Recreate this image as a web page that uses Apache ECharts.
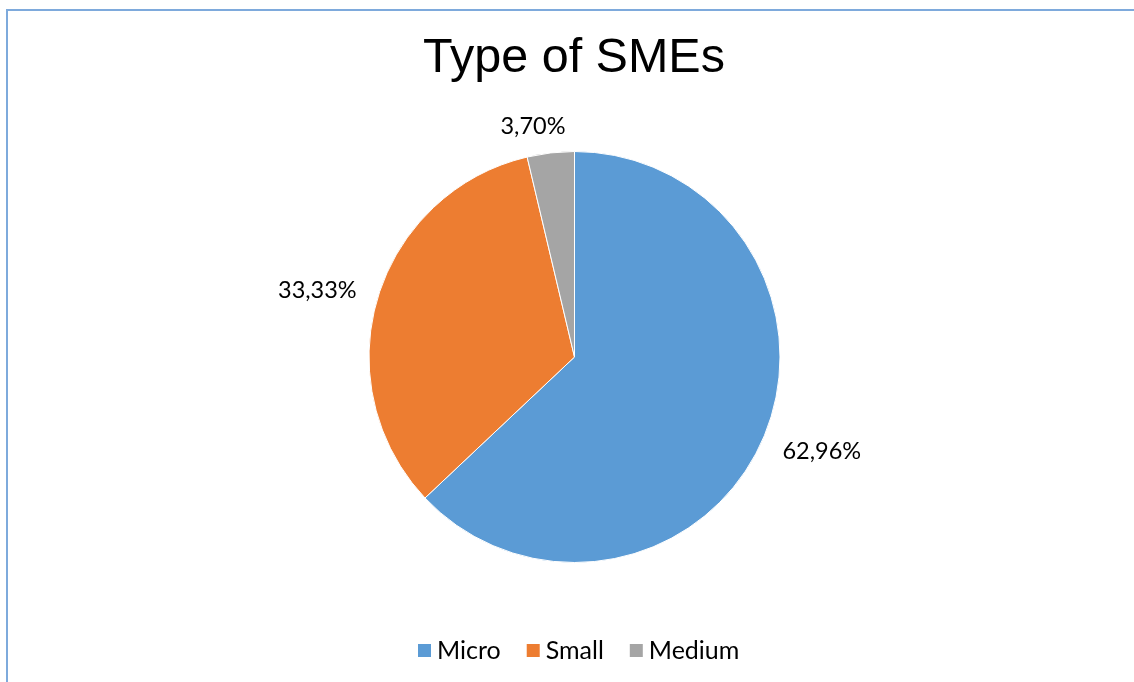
<!DOCTYPE html>
<html>
<head>
<meta charset="utf-8">
<title>Type of SMEs</title>
<script src="https://cdn.jsdelivr.net/npm/echarts@6/dist/echarts.min.js"></script>
<style>
  html, body { margin: 0; padding: 0; background: #ffffff; }
  #chart { width: 1134px; height: 682px; }
</style>
</head>
<body>
<div id="chart"></div>
<script>
// Share of SMEs by size class (percent of respondents)
const categories = ['Micro', 'Small', 'Medium'];
const shares = [62.96, 33.33, 3.70];
const sliceColors = ['#5B9BD5', '#ED7D31', '#A5A5A5'];

// Per-slice label placement: distance out from the rim and horizontal nudge
const labelPlacement = {
  Micro:  { length: 34, length2: -12 },
  Small:  { length: 25, length2: -3 },
  Medium: { length: 27, length2: -18 }
};

const labelFont = 'Lato, "Open Sans", sans-serif';

const pieData = categories.map((name, i) => ({
  name: name,
  value: shares[i],
  itemStyle: { color: sliceColors[i] },
  labelLine: {
    show: false,
    length: labelPlacement[name].length,
    length2: labelPlacement[name].length2
  }
}));

const chart = echarts.init(document.getElementById('chart'), null, { renderer: 'canvas' });

chart.setOption({
  backgroundColor: '#ffffff',
  animation: false,
  title: {
    text: 'Type of SMEs',
    left: 569,
    top: 29,
    textAlign: 'center',
    textStyle: {
      fontFamily: '"Liberation Sans", Arial, sans-serif',
      fontSize: 48.5,
      fontWeight: 'normal',
      color: '#000000'
    }
  },
  legend: {
    data: categories,
    left: 411,
    top: 633,
    orient: 'horizontal',
    itemWidth: 15,
    itemHeight: 15,
    itemGap: 24,
    icon: 'rect',
    textStyle: {
      fontFamily: labelFont,
      fontSize: 25,
      color: '#000000'
    }
  },
  graphic: [{
    type: 'rect',
    silent: true,
    shape: { x: 7, y: 10, width: 1300, height: 900 },
    style: { fill: 'none', stroke: '#7EAADC', lineWidth: 2 }
  }],
  series: [{
    type: 'pie',
    center: [574.5, 357],
    radius: 205.5,
    startAngle: 90,
    clockwise: true,
    avoidLabelOverlap: false,
    itemStyle: { borderColor: '#ffffff', borderWidth: 1 },
    label: {
      show: true,
      position: 'outside',
      distanceToLabelLine: 0,
      fontFamily: labelFont,
      fontSize: 23.5,
      color: '#000000',
      formatter: p => p.value.toFixed(2).replace('.', ',') + '%'
    },
    emphasis: { disabled: true },
    data: pieData
  }]
});
</script>
</body>
</html>
